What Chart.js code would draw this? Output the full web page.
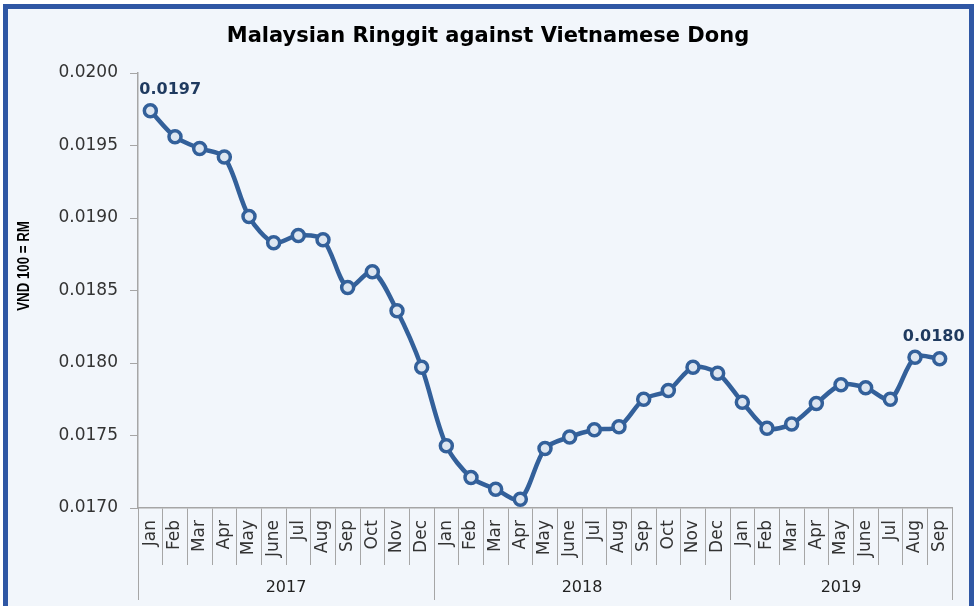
<!DOCTYPE html>
<html>
<head>
<meta charset="utf-8">
<script src="https://cdn.jsdelivr.net/npm/chart.js@4.4.1/dist/chart.umd.min.js"></script>
<style>
  html, body { margin: 0; padding: 0; background: #fff; overflow: hidden; }
  #frame {
    position: absolute; left: 3px; top: 4px;
    width: 961px; height: 700px;
    border: 5px solid #2f57a4;
    background: #f2f6fb;
  }
  #chart { position: absolute; left: 0; top: 0; }
</style>
</head>
<body>
<div id="frame"></div>
<canvas id="chart" width="978" height="606"></canvas>
<script>
const years = ['2017', '2018', '2019'];
const months2017 = ['Jan', 'Feb', 'Mar', 'Apr', 'May', 'June', 'Jul', 'Aug', 'Sep', 'Oct', 'Nov', 'Dec'];
const months2018 = ['Jan', 'Feb', 'Mar', 'Apr', 'May', 'June', 'Jul', 'Aug', 'Sep', 'Oct', 'Nov', 'Dec'];
const months2019 = ['Jan', 'Feb', 'Mar', 'Apr', 'May', 'June', 'Jul', 'Aug', 'Sep'];

// VND 100 = RM
const rate2017 = [0.01974, 0.01956, 0.01948, 0.01942, 0.01901, 0.01883, 0.01888, 0.01885, 0.01852, 0.01863, 0.01836, 0.01797];
const rate2018 = [0.01743, 0.01721, 0.01713, 0.01706, 0.01741, 0.01749, 0.01754, 0.01756, 0.01775, 0.01781, 0.01797, 0.01793];
const rate2019 = [0.01773, 0.01755, 0.01758, 0.01772, 0.01785, 0.01783, 0.01775, 0.01804, 0.01803];

const yTicks = [0.0170, 0.0175, 0.0180, 0.0185, 0.0190, 0.0195, 0.0200];
const labelledPoints = [0, 32];

const monthGroups = [months2017, months2018, months2019];
const labels = [].concat(months2017, months2018, months2019);
const values = [].concat(rate2017, rate2018, rate2019);

const lineBlue = '#33609a';
const axisGrey = '#a6a6a6';

const extras = {
  id: 'extras',
  afterDraw(chart) {
    const ctx = chart.ctx;
    const x = chart.scales.x;
    const area = chart.chartArea;
    ctx.save();

    // year group separators and labels
    ctx.strokeStyle = axisGrey;
    ctx.lineWidth = 1;
    ctx.fillStyle = '#222';
    ctx.font = '16px "DejaVu Sans"';
    ctx.textAlign = 'center';
    ctx.textBaseline = 'middle';
    let start = 0;
    const edge = (i) => {
      if (i <= 0) return area.left;
      if (i >= labels.length) return area.right;
      return (x.getPixelForValue(i - 1) + x.getPixelForValue(i)) / 2;
    };
    monthGroups.forEach((g, k) => {
      const l = edge(start), r = edge(start + g.length);
      [l, r].forEach(px => {
        ctx.beginPath();
        ctx.moveTo(Math.round(px) + 0.5, area.bottom);
        ctx.lineTo(Math.round(px) + 0.5, 600);
        ctx.stroke();
      });
      ctx.fillText(years[k], (l + r) / 2, 588);
      start += g.length;
    });

    // y axis title (condensed bold)
    ctx.save();
    ctx.translate(24, 266);
    ctx.rotate(-Math.PI / 2);
    ctx.scale(0.78, 1);
    ctx.font = 'bold 17px "Liberation Sans"';
    ctx.fillStyle = '#000';
    ctx.fillText('VND 100 = RM', 0, 0);
    ctx.restore();

    // data labels
    const meta = chart.getDatasetMeta(0);
    ctx.font = 'bold 16px "DejaVu Sans"';
    ctx.fillStyle = '#1f3a5f';
    ctx.textBaseline = 'alphabetic';
    labelledPoints.forEach(i => {
      const p = meta.data[i];
      const txt = values[i].toFixed(4);
      if (i === 0) {
        ctx.textAlign = 'left';
        ctx.fillText(txt, p.x - 11, p.y - 17);
      } else {
        ctx.textAlign = 'center';
        ctx.fillText(txt, p.x - 6, p.y - 18);
      }
    });
    ctx.restore();
  }
};

new Chart(document.getElementById('chart'), {
  type: 'line',
  data: {
    labels: labels,
    datasets: [{
      data: values,
      borderColor: lineBlue,
      borderWidth: 4.5,
      tension: 0.3,
      pointRadius: 6,
      pointBorderWidth: 3.5,
      pointBorderColor: lineBlue,
      pointBackgroundColor: '#dde6f1',
    }],
  },
  options: {
    responsive: false,
    animation: false,
    layout: { padding: { left: 24, right: 26, top: 0, bottom: 0 } },
    plugins: {
      legend: { display: false },
      tooltip: { enabled: false },
      title: {
        display: true,
        text: 'Malaysian Ringgit against Vietnamese Dong',
        color: '#000',
        font: { family: 'DejaVu Sans', size: 21, weight: 'bold', lineHeight: 1.2 },
        padding: { top: 24, bottom: 23.8 },
      },
    },
    scales: {
      x: {
        offset: true,
        border: { display: true, color: axisGrey, width: 1.5 },
        grid: { offset: true, drawOnChartArea: false, drawTicks: true, tickLength: 57, color: axisGrey },
        ticks: {
          autoSkip: false, minRotation: 90, maxRotation: 90, padding: -45,
          color: '#333', font: { family: 'DejaVu Sans', size: 17 },
        },
        afterFit(scale) { scale.height = 98; },
      },
      y: {
        min: yTicks[0],
        max: yTicks[yTicks.length - 1],
        afterBuildTicks(scale) { scale.ticks = yTicks.map(v => ({ value: v })); },
        border: { display: true, color: axisGrey, width: 1.5 },
        grid: { drawOnChartArea: false, drawTicks: true, tickLength: 8, color: axisGrey },
        ticks: {
          padding: 12, color: '#333',
          font: { family: 'DejaVu Sans', size: 17 },
          callback: (v) => Number(v).toFixed(4),
        },
        afterFit(scale) { scale.width = 114; },
      },
    },
  },
  plugins: [extras],
});
</script>
</body>
</html>
